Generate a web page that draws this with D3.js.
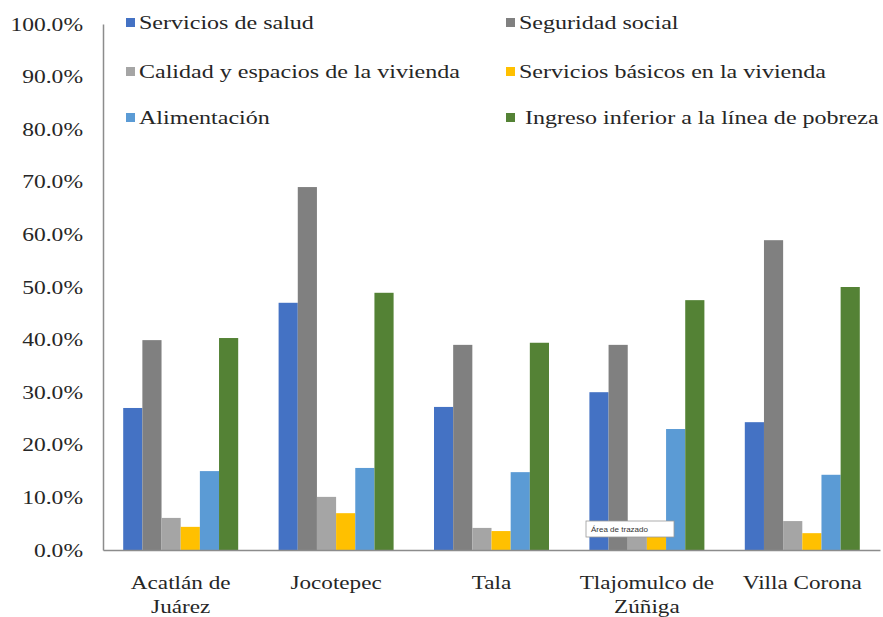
<!DOCTYPE html>
<html>
<head>
<meta charset="utf-8">
<script src="https://cdn.jsdelivr.net/npm/d3@7"></script>
<style>
  html, body { margin: 0; padding: 0; background: #fff; }
  svg { display: block; }
</style>
</head>
<body>
<svg id="chart" width="883" height="617"></svg>
<script>
// Municipalities (two-line labels)
const municipios = ["Acatlán de Juárez", "Jocotepec", "Tala", "Tlajomulco de Zúñiga", "Villa Corona"];
const municipioLines = [["Acatlán de", "Juárez"], ["Jocotepec"], ["Tala"], ["Tlajomulco de", "Zúñiga"], ["Villa Corona"]];

// Deprivation indicators (share of population, %)
const serieNombres = [
  "Servicios de salud",
  "Seguridad social",
  "Calidad y espacios de la vivienda",
  "Servicios básicos en la vivienda",
  "Alimentación",
  "Ingreso inferior a la línea de pobreza"
];
const serviciosSalud     = [27.0, 47.0, 27.2, 30.0, 24.3];
const seguridadSocial    = [39.9, 69.0, 39.0, 39.0, 58.9];
const calidadVivienda    = [6.1, 10.1, 4.2, 4.0, 5.5];
const serviciosBasicos   = [4.4, 7.0, 3.6, 2.5, 3.2];
const alimentacion       = [15.0, 15.6, 14.8, 23.0, 14.3];
const ingresoInferior    = [40.3, 48.9, 39.4, 47.5, 50.0];

const yTicks = [0, 10, 20, 30, 40, 50, 60, 70, 80, 90, 100];
const colores = ["#4472C4", "#808080", "#A5A5A5", "#FFC000", "#5B9BD5", "#548235"];

const series = [serviciosSalud, seguridadSocial, calidadVivienda, serviciosBasicos, alimentacion, ingresoInferior];

const SERIF = '"Liberation Serif", "Times New Roman", serif';
const TEXT_COLOR = "#262626";
// Wide-set serif lettering: horizontal stretch per text group
const STRETCH_Y = 1.24, STRETCH_CAT = 1.22, STRETCH_LEG = 1.3;

const svg = d3.select("#chart");
const plotLeft = 103, plotRight = 880, plotTop = 24, plotBottom = 550;

const x0 = d3.scaleBand().domain(municipios).range([plotLeft, plotRight]).paddingInner(0.26).paddingOuter(0.13);
const x1 = d3.scaleBand().domain(d3.range(serieNombres.length)).range([0, x0.bandwidth()]).padding(0);
const y = d3.scaleLinear().domain([0, 100]).range([plotBottom, plotTop]);

// Bars
const groups = svg.append("g").selectAll("g")
  .data(municipios)
  .join("g")
  .attr("transform", d => `translate(${x0(d)},0)`);

groups.selectAll("rect")
  .data((d, i) => series.map((s, k) => ({ k, v: s[i] })))
  .join("rect")
  .attr("x", d => x1(d.k))
  .attr("width", x1.bandwidth())
  .attr("y", d => y(d.v))
  .attr("height", d => plotBottom - y(d.v))
  .attr("fill", d => colores[d.k]);

// Y axis
const yAxis = d3.axisLeft(y).tickValues(yTicks).tickSize(0).tickPadding(20)
  .tickFormat(d => d3.format(".1f")(d) + "%");
const gy = svg.append("g").attr("transform", `translate(${plotLeft},0)`).call(yAxis);
gy.select(".domain").attr("stroke", "#8c8c8c").attr("stroke-width", 1.5);
gy.selectAll("text")
  .style("font-family", SERIF).style("font-size", "19px").style("fill", TEXT_COLOR)
  .attr("x", -20 / STRETCH_Y)
  .attr("transform", `scale(${STRETCH_Y},1)`);

// X axis
const xAxis = d3.axisBottom(x0).tickSize(0).tickFormat("");
const gx = svg.append("g").attr("transform", `translate(0,${plotBottom})`).call(xAxis);
gx.select(".domain").attr("stroke", "#8c8c8c").attr("stroke-width", 1.5);

const catLabels = svg.append("g").selectAll("g")
  .data(municipios)
  .join("g")
  .attr("transform", d => `translate(${x0(d) + x0.bandwidth() / 2},589) scale(${STRETCH_CAT},1)`);
catLabels.append("text")
  .attr("text-anchor", "middle")
  .style("font-family", SERIF).style("font-size", "19px").style("fill", TEXT_COLOR)
  .selectAll("tspan")
  .data((d, i) => municipioLines[i])
  .join("tspan")
  .attr("x", 0)
  .attr("dy", (d, i) => i === 0 ? 0 : 24)
  .text(d => d);

// Legend: two columns, three rows
const legendCols = [126, 506];
const legendRows = [23, 72, 118];
const leg = svg.append("g").selectAll("g")
  .data(serieNombres)
  .join("g")
  .attr("transform", (d, i) => `translate(${legendCols[i % 2]},${legendRows[Math.floor(i / 2)]})`);
leg.append("rect").attr("x", 0).attr("y", -5).attr("width", 9).attr("height", 9)
  .attr("fill", (d, i) => colores[i]);
leg.append("text")
  .attr("transform", (d, i) => `translate(${i === 5 ? 19 : 13},0) scale(${STRETCH_LEG},1)`)
  .attr("dy", "0.35em")
  .style("font-family", SERIF).style("font-size", "18.5px").style("fill", TEXT_COLOR)
  .text(d => d);

// Plot-area hint box
const hint = svg.append("g").attr("transform", `translate(586,521)`);
hint.append("rect").attr("width", 88).attr("height", 16).attr("fill", "#fff")
  .attr("stroke", "#9a9a9a").attr("stroke-width", 0.8);
hint.append("text").attr("x", 5).attr("y", 8).attr("dy", "0.35em")
  .style("font-size", "8px").style("font-family", '"Liberation Sans", Arial, sans-serif')
  .style("fill", "#333")
  .text("Área de trazado");
</script>
</body>
</html>
